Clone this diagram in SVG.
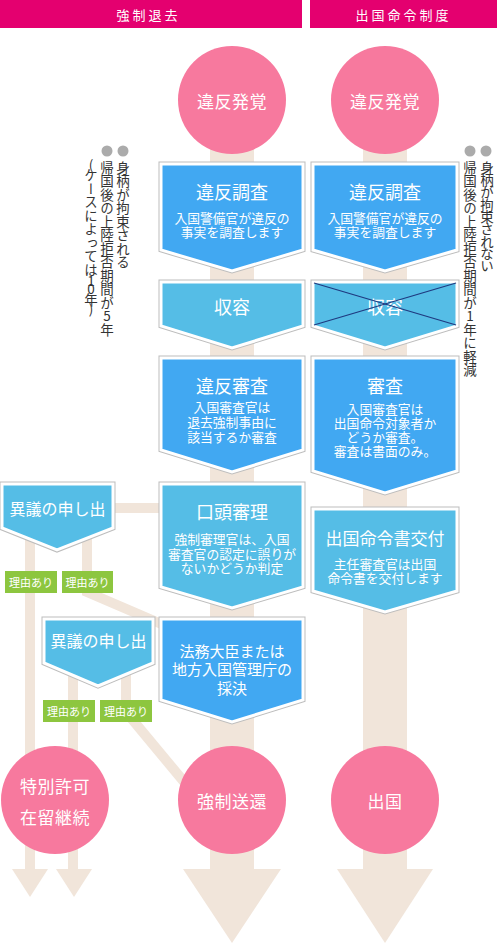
<svg xmlns="http://www.w3.org/2000/svg" width="497" height="944" viewBox="0 0 497 944">
<style>
text{font-family:"Noto Sans CJK JP","Noto Sans",sans-serif;}
.hd{fill:#E4006F;}
.hdt{fill:#fff;font-size:13px;letter-spacing:3px;text-anchor:middle;dominant-baseline:central;}
.trk{fill:#F1E5DA;}
.ln{fill:none;stroke:#F1E5DA;stroke-width:10;stroke-linejoin:miter;}
.ol{fill:none;stroke:#BDBDBD;stroke-width:5;stroke-linejoin:miter;}
.dk{fill:#41A8F2;stroke:#fff;stroke-width:3;}
.lt{fill:#55BDE6;stroke:#fff;stroke-width:3;}
.cir{fill:#F7799E;}
.w{fill:#fff;text-anchor:middle;dominant-baseline:central;}
.t1{font-size:18px;}
.t2{font-size:12.8px;}
.t3{font-size:15px;}
.tc{font-size:17px;letter-spacing:0.5px;}
.tb{font-size:16px;}
.tag{fill:#8DC63F;}
.tt{font-size:11px;}
.vt{fill:#333;font-size:13.5px;writing-mode:vertical-rl;text-orientation:upright;}
.dot{fill:#ABABAB;}
.x{stroke:#1F3A80;stroke-width:1.3;}
</style>

<g id="headers">
  <rect class="hd" x="0" y="0" width="302" height="28"/>
  <text class="hdt" x="148.5" y="14">強制退去</text>
  <rect class="hd" x="310" y="0" width="187" height="28"/>
  <text class="hdt" x="403.5" y="14">出国命令制度</text>
</g>

<g id="connectors">
  <rect class="trk" x="210" y="100" width="44" height="770"/>
  <rect class="trk" x="363" y="100" width="44" height="770"/>
  <polygon class="trk" points="183,869 281,869 232,943"/>
  <polygon class="trk" points="337,869 433,869 385,943"/>
  <path class="ln" d="M30 528 V870"/>
  <path class="ln" d="M87 528 V592 L180 632"/>
  <path class="ln" d="M113 508 H170"/>
  <path class="ln" d="M73 663 V870"/>
  <path class="ln" d="M126 663 V712 L195 795"/>
  <polygon class="trk" points="12,869 48,869 30,897"/>
  <polygon class="trk" points="56,869 92,869 74,897"/>
</g>

<g id="note-left">
  <circle class="dot" cx="107" cy="151" r="5.5"/>
  <circle class="dot" cx="123" cy="151" r="5.5"/>
  <text class="vt" x="123" y="161">身柄が拘束される</text>
  <text class="vt" x="107" y="161">帰国後の上陸拒否期間が5年</text>
  <text class="vt" x="91" y="158.5">(<tspan y="168">ケースによっては</tspan><tspan y="274">1</tspan><tspan y="282">0</tspan><tspan y="292.5">年</tspan><tspan y="302">)</tspan></text>
</g>

<g id="note-right">
  <circle class="dot" cx="470" cy="151" r="5.5"/>
  <circle class="dot" cx="486" cy="151" r="5.5"/>
  <text class="vt" x="487" y="161" style="letter-spacing:-1.2px">身柄が拘束されない</text>
  <text class="vt" x="470" y="161">帰国後の上陸拒否期間が1年に軽減</text>
</g>

<g id="start-left">
  <circle class="cir" cx="232" cy="100" r="54"/>
  <text class="w tc" x="232" y="100">違反発覚</text>
</g>
<g id="start-right">
  <circle class="cir" cx="385" cy="100" r="54"/>
  <text class="w tc" x="385" y="100">違反発覚</text>
</g>

<g id="investigation-left">
  <polygon class="ol" points="161,164 303,164 303,250 232,271 161,250"/>
  <polygon class="dk" points="161,164 303,164 303,250 232,271 161,250"/>
  <text class="w t1" x="232" y="191">違反調査</text>
  <text class="w t2" x="232" y="217">入国警備官が違反の</text>
  <text class="w t2" x="232" y="231">事実を調査します</text>
</g>
<g id="investigation-right">
  <polygon class="ol" points="313,164 457,164 457,250 385,271 313,250"/>
  <polygon class="dk" points="313,164 457,164 457,250 385,271 313,250"/>
  <text class="w t1" x="385" y="191">違反調査</text>
  <text class="w t2" x="385" y="217">入国警備官が違反の</text>
  <text class="w t2" x="385" y="231">事実を調査します</text>
</g>

<g id="detention-left">
  <polygon class="ol" points="161,282 303,282 303,326 232,348 161,326"/>
  <polygon class="lt" points="161,282 303,282 303,326 232,348 161,326"/>
  <text class="w t1" x="232" y="306">収容</text>
</g>
<g id="detention-right">
  <polygon class="ol" points="313,282 457,282 457,326 385,348 313,326"/>
  <polygon class="lt" points="313,282 457,282 457,326 385,348 313,326"/>
  <text class="w t1" x="385" y="306">収容</text>
  <line class="x" x1="314" y1="283" x2="456" y2="325"/>
  <line class="x" x1="314" y1="325" x2="456" y2="283"/>
</g>

<g id="review-left">
  <polygon class="ol" points="161,358 303,358 303,450 232,472 161,450"/>
  <polygon class="dk" points="161,358 303,358 303,450 232,472 161,450"/>
  <text class="w t1" x="232" y="385">違反審査</text>
  <text class="w t2" x="232" y="406">入国審査官は</text>
  <text class="w t2" x="232" y="421">退去強制事由に</text>
  <text class="w t2" x="232" y="436">該当するか審査</text>
</g>
<g id="review-right">
  <polygon class="ol" points="313,358 457,358 457,471 385,493 313,471"/>
  <polygon class="dk" points="313,358 457,358 457,471 385,493 313,471"/>
  <text class="w t1" x="385" y="385">審査</text>
  <text class="w t2" x="385" y="408">入国審査官は</text>
  <text class="w t2" x="385" y="422">出国命令対象者か</text>
  <text class="w t2" x="385" y="436">どうか審査。</text>
  <text class="w t2" x="385" y="450">審査は書面のみ。</text>
</g>

<g id="hearing">
  <polygon class="ol" points="161,484 303,484 303,587 232,608 161,587"/>
  <polygon class="lt" points="161,484 303,484 303,587 232,608 161,587"/>
  <text class="w t1" x="232" y="511">口頭審理</text>
  <text class="w t2" x="232" y="538">強制審理官は、入国</text>
  <text class="w t2" x="232" y="553">審査官の認定に誤りが</text>
  <text class="w t2" x="232" y="567">ないかどうか判定</text>
</g>

<g id="order-issue">
  <polygon class="ol" points="313,509 457,509 457,591 385,612 313,591"/>
  <polygon class="lt" points="313,509 457,509 457,591 385,612 313,591"/>
  <text class="w t1" x="385" y="537" style="font-size:17px">出国命令書交付</text>
  <text class="w t2" x="385" y="563">主任審査官は出国</text>
  <text class="w t2" x="385" y="577">命令書を交付します</text>
</g>

<g id="minister">
  <polygon class="ol" points="161,619 303,619 303,700 232,722 161,700"/>
  <polygon class="dk" points="161,619 303,619 303,700 232,722 161,700"/>
  <text class="w t3" x="232" y="650">法務大臣または</text>
  <text class="w t3" x="232" y="668">地方入国管理庁の</text>
  <text class="w t3" x="232" y="687">採決</text>
</g>

<g id="objection-1">
  <polygon class="ol" points="2,484 113,484 113,528 57,550 2,528"/>
  <polygon class="lt" points="2,484 113,484 113,528 57,550 2,528"/>
  <text class="w tb" x="57.5" y="508">異議の申し出</text>
</g>
<g id="reason-1a">
  <rect class="tag" x="5" y="571" width="52" height="22"/>
  <text class="w tt" x="31" y="582">理由あり</text>
</g>
<g id="reason-1b">
  <rect class="tag" x="62" y="571" width="51" height="22"/>
  <text class="w tt" x="87.5" y="582">理由あり</text>
</g>

<g id="objection-2">
  <polygon class="ol" points="44,619 153,619 153,663 98,686 44,663"/>
  <polygon class="lt" points="44,619 153,619 153,663 98,686 44,663"/>
  <text class="w tb" x="98.5" y="640">異議の申し出</text>
</g>
<g id="reason-2a">
  <rect class="tag" x="43" y="700" width="52" height="22"/>
  <text class="w tt" x="69" y="711">理由あり</text>
</g>
<g id="reason-2b">
  <rect class="tag" x="100" y="700" width="52" height="22"/>
  <text class="w tt" x="126" y="711">理由あり</text>
</g>

<g id="end-permit">
  <circle class="cir" cx="55" cy="800" r="54"/>
  <text class="w tc" x="55" y="785">特別許可</text>
  <text class="w tc" x="55" y="816">在留継続</text>
</g>
<g id="end-deport">
  <circle class="cir" cx="232" cy="800" r="54"/>
  <text class="w tc" x="232" y="800">強制送還</text>
</g>
<g id="end-depart">
  <circle class="cir" cx="385" cy="800" r="54"/>
  <text class="w tc" x="385" y="800">出国</text>
</g>
</svg>
